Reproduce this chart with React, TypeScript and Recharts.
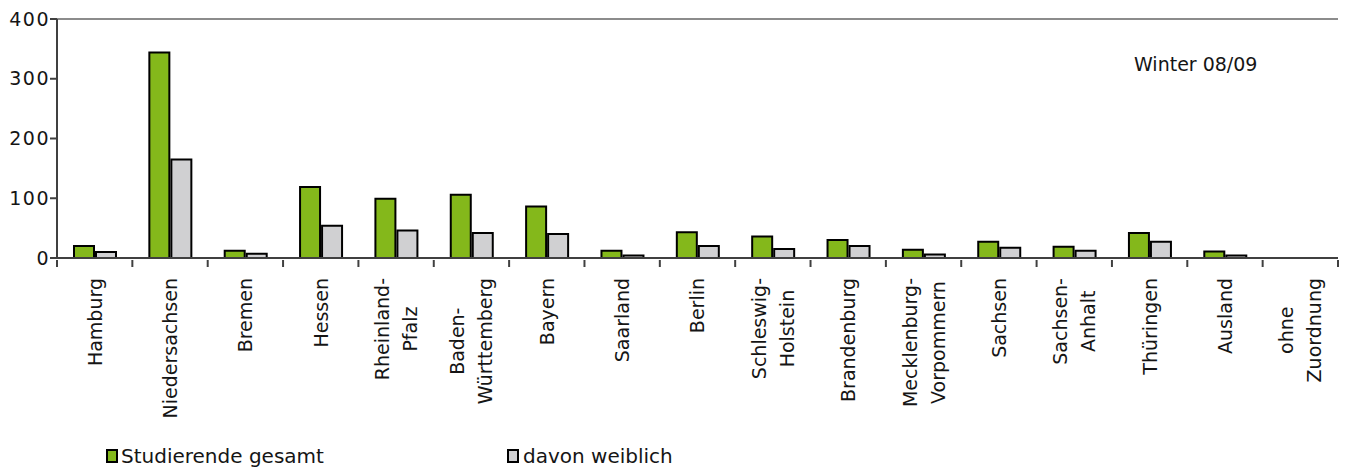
import React from 'react';
import { BarChart, Bar, XAxis, YAxis, ReferenceLine } from 'recharts';

// categories; "|" marks a line break in the axis label
const categories = [
  'Hamburg', 'Niedersachsen', 'Bremen', 'Hessen', 'Rheinland-|Pfalz',
  'Baden-|Württemberg', 'Bayern', 'Saarland', 'Berlin', 'Schleswig-|Holstein',
  'Brandenburg', 'Mecklenburg-|Vorpommern', 'Sachsen', 'Sachsen-|Anhalt',
  'Thüringen', 'Ausland', 'ohne|Zuordnung',
];
const gesamt = [20, 344, 12, 119, 99, 106, 86, 12, 43, 36, 30, 14, 27, 19, 42, 11, 0];
const weiblich = [10, 165, 7, 54, 46, 42, 40, 4, 20, 15, 20, 6, 17, 12, 27, 4, 0];
const yTicks = [0, 100, 200, 300, 400];
const seriesNames = ['Studierende gesamt', 'davon weiblich'];
const periodLabel = 'Winter 08/09';

const data = categories.map((c, i) => ({ name: c, gesamt: gesamt[i], weiblich: weiblich[i] }));

const W = 1348;
const H = 470;
const MARGIN = { top: 19, right: 10, left: 0, bottom: 0 };
const Y_W = 57;
const STEP = (W - MARGIN.left - MARGIN.right - Y_W) / categories.length;

const FONT = '"DejaVu Sans", Verdana, sans-serif';
const GREEN = '#84b81b';
const GREY = '#d0d0d2';
const AXIS = '#404040';
const BORDER = '#8c8c8c';
const TEXT = '#151515';

let ctx: CanvasRenderingContext2D | null = null;
const measure = (s: string) => {
  if (!ctx) ctx = document.createElement('canvas').getContext('2d');
  if (!ctx) return s.length * 11;
  ctx.font = `19px ${FONT}`;
  return ctx.measureText(s).width;
};

const CategoryTick = (props: any) => {
  const { x, y, payload, index } = props;
  const lines = String(payload.value).split('|');
  const longest = Math.max(...lines.map(measure));
  const cy = y + 18 + longest / 2;
  const n = lines.length;
  return (
    <g>
      <line x1={x - STEP / 2} x2={x - STEP / 2} y1={y} y2={y + 7} stroke={AXIS} strokeWidth={2} />
      {index === categories.length - 1 && (
        <line x1={x + STEP / 2} x2={x + STEP / 2} y1={y} y2={y + 7} stroke={AXIS} strokeWidth={2} />
      )}
      {lines.map((l, i) => {
        const bx = x + 7 + (i - (n - 1) / 2) * 28;
        return (
          <text
            key={i}
            x={bx}
            y={cy}
            transform={`rotate(-90 ${bx} ${cy})`}
            textAnchor="middle"
            fontSize={19}
            fontFamily={FONT}
            fill={TEXT}
          >
            {l}
          </text>
        );
      })}
    </g>
  );
};

const legendBox = (fill: string, left: number): React.CSSProperties => ({
  position: 'absolute',
  left,
  top: 449,
  width: 12,
  height: 14,
  boxSizing: 'border-box',
  border: '2px solid #000',
  background: fill,
});

const legendText = (left: number): React.CSSProperties => ({
  position: 'absolute',
  left,
  top: 446,
  fontFamily: FONT,
  fontSize: 20,
  lineHeight: '20px',
  color: TEXT,
  whiteSpace: 'nowrap',
});

const App = () => {
  return (
    <div style={{ position: 'absolute', left: 0, top: 0, width: W, height: H, background: '#fff' }}>
      <BarChart width={W} height={H} data={data} margin={MARGIN} barGap={2} barSize={20}>
        <XAxis
          dataKey="name"
          height={212}
          interval={0}
          tickSize={0}
          tickLine={false}
          axisLine={{ stroke: AXIS, strokeWidth: 2 }}
          tick={<CategoryTick />}
        />
        <YAxis
          yAxisId="l"
          width={Y_W}
          domain={[0, 400]}
          ticks={yTicks}
          interval={0}
          tickSize={7}
          tickMargin={0}
          axisLine={{ stroke: AXIS, strokeWidth: 2 }}
          tickLine={{ stroke: AXIS, strokeWidth: 2 }}
          tick={{ fontSize: 19, fontFamily: FONT, fill: TEXT, letterSpacing: 1.5 }}
        />
        <YAxis
          yAxisId="r"
          orientation="right"
          width={0}
          domain={[0, 400]}
          tick={false}
          tickLine={false}
          axisLine={{ stroke: BORDER, strokeWidth: 2 }}
        />
        <ReferenceLine yAxisId="l" y={400} stroke={BORDER} strokeWidth={2} />
        <Bar yAxisId="l" dataKey="gesamt" name={seriesNames[0]} fill={GREEN} stroke="#000" strokeWidth={2} isAnimationActive={false} />
        <Bar yAxisId="l" dataKey="weiblich" name={seriesNames[1]} fill={GREY} stroke="#000" strokeWidth={2} isAnimationActive={false} />
      </BarChart>

      <div
        style={{
          position: 'absolute',
          left: 1134,
          top: 55,
          fontFamily: FONT,
          fontSize: 19,
          lineHeight: '19px',
          color: TEXT,
          whiteSpace: 'nowrap',
        }}
      >
        {periodLabel}
      </div>

      <div style={legendBox(GREEN, 106)} />
      <div style={legendText(121)}>{seriesNames[0]}</div>
      <div style={legendBox(GREY, 507)} />
      <div style={legendText(523)}>{seriesNames[1]}</div>
    </div>
  );
};

export default App;
